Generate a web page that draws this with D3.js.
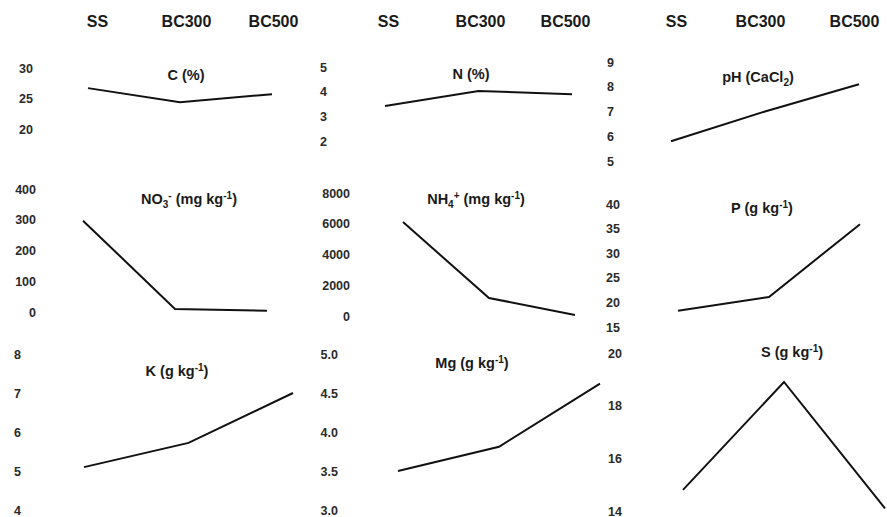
<!DOCTYPE html>
<html>
<head>
<meta charset="utf-8">
<script src="https://cdn.jsdelivr.net/npm/d3@7"></script>
<style>
  html, body { margin: 0; padding: 0; background: #fff; }
  svg { display: block; }
  text { font-family: "Liberation Sans", Arial, sans-serif; font-weight: bold; }
</style>
</head>
<body>
<svg id="chart" width="887" height="517"></svg>
<script>
// ---------- data ----------
const groups = ["SS", "BC300", "BC500"];

const valC   = [26.7, 24.4, 25.7];
const valN   = [3.42, 4.03, 3.9];
const valPH  = [5.8, 7.0, 8.1];
const valNO3 = [297, 10, 4];
const valNH4 = [6110, 1170, 70];
const valP   = [18.3, 21.1, 35.9];
const valK   = [5.1, 5.72, 7.0];
const valMg  = [3.5, 3.81, 4.62];
const valS   = [14.8, 18.9, 14.1];

const ticksC   = [20, 25, 30];
const ticksN   = [2, 3, 4, 5];
const ticksPH  = [5, 6, 7, 8, 9];
const ticksNO3 = [0, 100, 200, 300, 400];
const ticksNH4 = [0, 2000, 4000, 6000, 8000];
const ticksP   = [15, 20, 25, 30, 35, 40];
const ticksK   = [4, 5, 6, 7, 8];
const ticksMg  = [3.0, 3.5, 4.0, 4.5, 5.0];
const ticksS   = [14, 16, 18, 20];

// titles: segments [text, kind]  kind: "" | "sub" | "sup"
const titleC   = [["C (%)", ""]];
const titleN   = [["N (%)", ""]];
const titlePH  = [["pH (CaCl", ""], ["2", "sub"], [")", ""]];
const titleNO3 = [["NO", ""], ["3", "sub"], ["-", "sup"], [" (mg kg", ""], ["-1", "sup"], [")", ""]];
const titleNH4 = [["NH", ""], ["4", "sub"], ["+", "sup"], [" (mg kg", ""], ["-1", "sup"], [")", ""]];
const titleP   = [["P (g kg", ""], ["-1", "sup"], [")", ""]];
const titleK   = [["K (g kg", ""], ["-1", "sup"], [")", ""]];
const titleMg  = [["Mg (g kg", ""], ["-1", "sup"], [")", ""]];
const titleS   = [["S (g kg", ""], ["-1", "sup"], [")", ""]];

// ---------- layout (pixel positions) ----------
const headerLayout = [
  { xs: [97, 186, 273] },
  { xs: [388, 480, 565] },
  { xs: [676, 760, 854] }
];

const panels = [
  { values: valC,   ticks: ticksC,   title: titleC,   fmt: d3.format("d"),   xr: [88, 272],  yr: [129, 68],  axisX: 33,  tx: 186, ty: 80 },
  { values: valN,   ticks: ticksN,   title: titleN,   fmt: d3.format("d"),   xr: [385, 572], yr: [141, 67],  axisX: 327, tx: 471, ty: 79 },
  { values: valPH,  ticks: ticksPH,  title: titlePH,  fmt: d3.format("d"),   xr: [671, 859], yr: [161, 62],  axisX: 614, tx: 758, ty: 82 },
  { values: valNO3, ticks: ticksNO3, title: titleNO3, fmt: d3.format("d"),   xr: [83, 267],  yr: [312, 189], axisX: 36,  tx: 189, ty: 204 },
  { values: valNH4, ticks: ticksNH4, title: titleNH4, fmt: d3.format("d"),   xr: [403, 575], yr: [316, 193], axisX: 350, tx: 476, ty: 204 },
  { values: valP,   ticks: ticksP,   title: titleP,   fmt: d3.format("d"),   xr: [678, 860], yr: [327, 204], axisX: 620, tx: 762, ty: 213 },
  { values: valK,   ticks: ticksK,   title: titleK,   fmt: d3.format("d"),   xr: [84, 293],  yr: [510, 354], axisX: 21,  tx: 177, ty: 376 },
  { values: valMg,  ticks: ticksMg,  title: titleMg,  fmt: d3.format(".1f"), xr: [398, 600], yr: [510, 354], axisX: 338, tx: 472, ty: 368 },
  { values: valS,   ticks: ticksS,   title: titleS,   fmt: d3.format("d"),   xr: [683, 885], yr: [511, 353], axisX: 622, tx: 792, ty: 357 }
];

const svg = d3.select("#chart");

// ---------- column headers ----------
headerLayout.forEach(h => {
  const xh = d3.scaleOrdinal().domain(groups).range(h.xs);
  const g = svg.append("g")
    .attr("transform", "translate(0,27)")
    .call(d3.axisTop(xh).tickSize(0).tickPadding(0));
  g.select(".domain").remove();
  g.selectAll("text")
    .attr("font-size", 16)
    .attr("font-family", "Liberation Sans, Arial, sans-serif")
    .attr("font-weight", "bold")
    .attr("fill", "#1a1a1a")
    .attr("dy", 0);
});

// ---------- panels ----------
panels.forEach(p => {
  const x = d3.scalePoint().domain(groups).range(p.xr);
  const y = d3.scaleLinear()
    .domain([d3.min(p.ticks), d3.max(p.ticks)])
    .range(p.yr);

  const ax = svg.append("g")
    .attr("transform", `translate(${p.axisX},0)`)
    .call(d3.axisLeft(y).tickValues(p.ticks).tickFormat(p.fmt).tickSize(0).tickPadding(0));
  ax.select(".domain").remove();
  ax.selectAll("text")
    .attr("font-size", 12.5)
    .attr("font-family", "Liberation Sans, Arial, sans-serif")
    .attr("font-weight", "bold")
    .attr("fill", "#2a2a2a");

  const line = d3.line()
    .x((d, i) => x(groups[i]))
    .y(d => y(d));

  svg.append("path")
    .datum(p.values)
    .attr("d", line)
    .attr("fill", "none")
    .attr("stroke", "#111")
    .attr("stroke-width", 2)
    .attr("stroke-linejoin", "miter");

  const t = svg.append("text")
    .attr("x", p.tx)
    .attr("y", p.ty)
    .attr("text-anchor", "middle")
    .attr("font-size", 14.5)
    .attr("fill", "#1a1a1a");

  let shift = 0;
  p.title.forEach(([txt, kind]) => {
    let target = 0, size = 14.5;
    if (kind === "sub") { target = 4; size = 10; }
    if (kind === "sup") { target = -5; size = 10; }
    t.append("tspan")
      .attr("dy", target - shift)
      .attr("font-size", size)
      .text(txt);
    shift = target;
  });
});
</script>
</body>
</html>
